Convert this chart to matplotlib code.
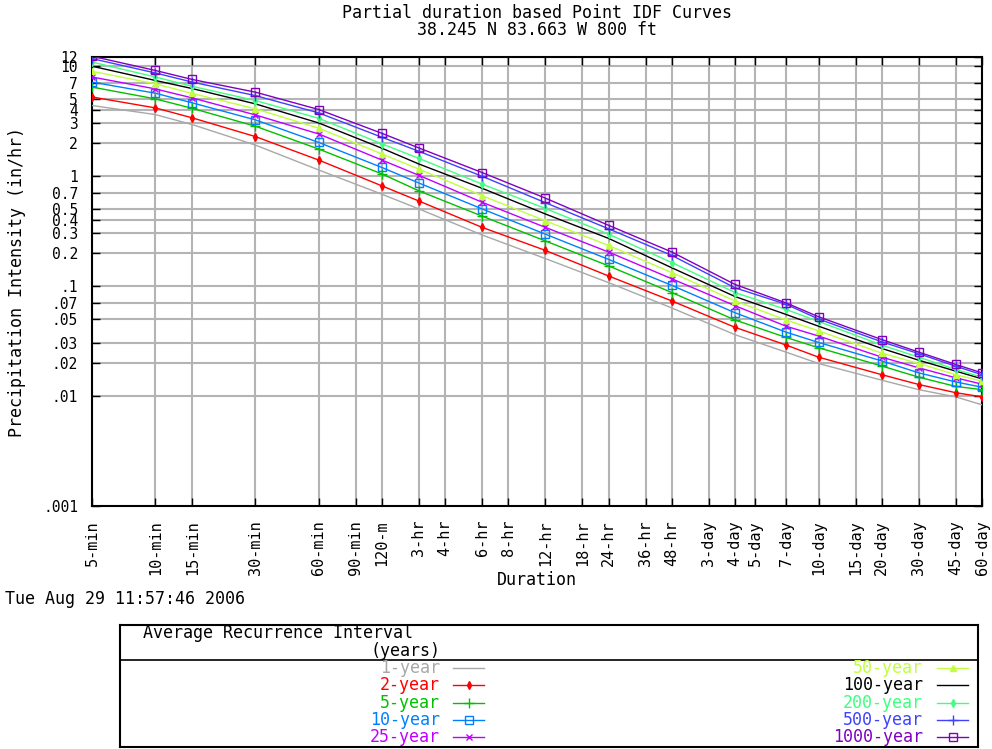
import matplotlib
matplotlib.use("Agg")
import matplotlib.pyplot as plt
from matplotlib.lines import Line2D

plt.rcParams['font.family'] = ['DejaVu Sans Mono']

## durations (minutes) where NOAA gives values
durations = [5, 10, 15, 30, 60, 120, 180, 360, 720, 1440, 2880, 5760,
             10080, 14400, 28800, 43200, 64800, 86400]

## intensities (in/hr), one list per recurrence interval
yr1 = [4.35, 3.6, 2.92, 1.9, 1.13, 0.68, 0.50, 0.29, 0.177, 0.107, 0.063, 0.036,
       0.025, 0.0197, 0.0139, 0.0114, 0.0098, 0.0083]
yr2 = [5.2, 4.14, 3.36, 2.27, 1.39, 0.81, 0.59, 0.34, 0.21, 0.123, 0.073, 0.042,
       0.029, 0.0225, 0.0156, 0.0127, 0.0107, 0.0098]
yr5 = [6.4, 5.0, 4.1, 2.82, 1.75, 1.04, 0.73, 0.43, 0.256, 0.152, 0.087, 0.049,
       0.034, 0.0274, 0.0187, 0.0148, 0.0122, 0.0114]
yr10 = [7.1, 5.63, 4.6, 3.22, 2.01, 1.19, 0.86, 0.50, 0.295, 0.174, 0.101, 0.057,
        0.038, 0.0306, 0.0208, 0.0162, 0.0134, 0.0120]
yr25 = [7.9, 6.16, 5.1, 3.57, 2.4, 1.39, 1.01, 0.575, 0.34, 0.203, 0.116, 0.066,
        0.043, 0.035, 0.0225, 0.0180, 0.0146, 0.0128]
yr50 = [8.9, 6.85, 5.6, 4.06, 2.71, 1.58, 1.15, 0.66, 0.39, 0.233, 0.132, 0.073,
        0.049, 0.039, 0.0245, 0.0197, 0.0156, 0.0136]
yr100 = [9.9, 7.35, 6.2, 4.5, 3.02, 1.78, 1.28, 0.77, 0.45, 0.27, 0.146, 0.080,
         0.055, 0.043, 0.027, 0.0211, 0.0168, 0.0143]
yr200 = [10.8, 7.9, 6.5, 4.83, 3.33, 1.95, 1.44, 0.84, 0.505, 0.295, 0.163, 0.087,
         0.061, 0.0475, 0.029, 0.0225, 0.0174, 0.0148]
yr500 = [11.6, 8.6, 7.1, 5.35, 3.73, 2.24, 1.67, 0.99, 0.57, 0.33, 0.189, 0.096,
         0.068, 0.050, 0.031, 0.0242, 0.0186, 0.0156]
yr1000 = [12.2, 9.06, 7.5, 5.75, 4.0, 2.43, 1.79, 1.07, 0.627, 0.355, 0.203, 0.103,
          0.070, 0.0524, 0.0325, 0.0250, 0.0193, 0.0162]

series = [yr1, yr2, yr5, yr10, yr25, yr50, yr100, yr200, yr500, yr1000]
labels = ['1-year', '2-year', '5-year', '10-year', '25-year',
          '50-year', '100-year', '200-year', '500-year', '1000-year']
colors = ['#a8a8a8', '#ff0000', '#00c000', '#0080ff', '#c000ff',
          '#c0ff40', '#000000', '#40ff80', '#4040ff', '#8000c0']
markers = ['', 'd', '+', 's', 'x', '^', '', 'd', '+', 's']
msizes = [0, 4, 7, 6, 5, 4, 0, 4, 7, 6]

## axis ticks
xtick_vals = [5, 10, 15, 30, 60, 90, 120, 180, 240, 360, 480, 720, 1080, 1440,
              2160, 2880, 4320, 5760, 7200, 10080, 14400, 21600, 28800, 43200,
              64800, 86400]
xtick_labels = ['5-min', '10-min', '15-min', '30-min', '60-min', '90-min', '120-m',
                '3-hr', '4-hr', '6-hr', '8-hr', '12-hr', '18-hr', '24-hr', '36-hr',
                '48-hr', '3-day', '4-day', '5-day', '7-day', '10-day', '15-day',
                '20-day', '30-day', '45-day', '60-day']
ytick_vals = [12, 10, 7, 5, 4, 3, 2, 1, 0.7, 0.5, 0.4, 0.3, 0.2, 0.1, 0.07, 0.05,
              0.03, 0.02, 0.01, 0.001]
ytick_labels = ['12', '10', '7', '5', '4', '3', '2', '1', '0.7', '0.5', '0.4', '0.3',
                '0.2', '.1', '.07', '.05', '.03', '.02', '.01', '.001']

W, H = 992, 749
fig = plt.figure(figsize=(W / 100, H / 100), dpi=100)
ax = fig.add_axes([92 / W, 1 - 506 / H, 890 / W, 449 / H])

ax.set_xscale('log')
ax.set_yscale('log')
ax.set_xlim(5, 86400)
ax.set_ylim(0.001, 12)

for x in xtick_vals:
    ax.axvline(x, color='#b4b4b4', lw=1.5, zorder=1)
for y in ytick_vals:
    if y > 0.001:
        ax.axhline(y, color='#b4b4b4', lw=1.5, zorder=1)

for vals, lab, col, mk, ms in zip(series, labels, colors, markers, msizes):
    ax.plot(durations, vals, color=col, lw=1, marker=mk if mk else None,
            ms=ms, mfc='none' if mk == 's' else col, mew=1, zorder=3)

ax.set_xticks(xtick_vals)
ax.set_xticklabels(xtick_labels, rotation=90, fontsize=11)
ax.set_yticks(ytick_vals)
ax.set_yticklabels(ytick_labels, fontsize=10.5)
ax.minorticks_off()
ax.tick_params(axis='both', direction='in', length=6, width=1,
               top=True, right=True, pad=10)
for sp in ax.spines.values():
    sp.set_linewidth(1.5)

fs = 12
fig.text(537 / W, 1 - 13 / H, 'Partial duration based Point IDF Curves',
         ha='center', va='center', fontsize=fs)
fig.text(537 / W, 1 - 30 / H, '38.245 N 83.663 W 800 ft',
         ha='center', va='center', fontsize=fs)
fig.text(17 / W, 1 - 282 / H, 'Precipitation Intensity (in/hr)', rotation=90,
         ha='center', va='center', fontsize=fs)
fig.text(537 / W, 1 - 580 / H, 'Duration', ha='center', va='center', fontsize=fs)
fig.text(5 / W, 1 - 599 / H, 'Tue Aug 29 11:57:46 2006', ha='left', va='center',
         fontsize=fs)

## legend box drawn in its own pixel-based axes
lg = fig.add_axes([120 / W, 1 - 747 / H, 858 / W, 122 / H])
lg.set_xlim(120, 978)
lg.set_ylim(747, 625)
lg.set_xticks([])
lg.set_yticks([])
for sp in lg.spines.values():
    sp.set_linewidth(1.5)
lg.axhline(660, color='black', lw=1.2)
lg.text(143, 633, 'Average Recurrence Interval', ha='left', va='center', fontsize=fs)
lg.text(440, 651, '(years)', ha='right', va='center', fontsize=fs)

for i, (lab, col, mk, ms) in enumerate(zip(labels, colors, markers, msizes)):
    col_i, row = divmod(i, 5)
    ty = 668 + row * 17.3
    tx, lx0, lx1 = (440, 453, 484) if col_i == 0 else (923, 937, 968)
    lg.text(tx, ty, lab, color=col, ha='right', va='center', fontsize=fs)
    lg.add_line(Line2D([lx0, lx1], [ty, ty], color=col, lw=1))
    if mk:
        lg.plot([(lx0 + lx1) / 2], [ty], color=col, marker=mk,
                ms=ms, mfc='none' if mk == 's' else col, mew=1)

fig.savefig('out.png', dpi=100)
